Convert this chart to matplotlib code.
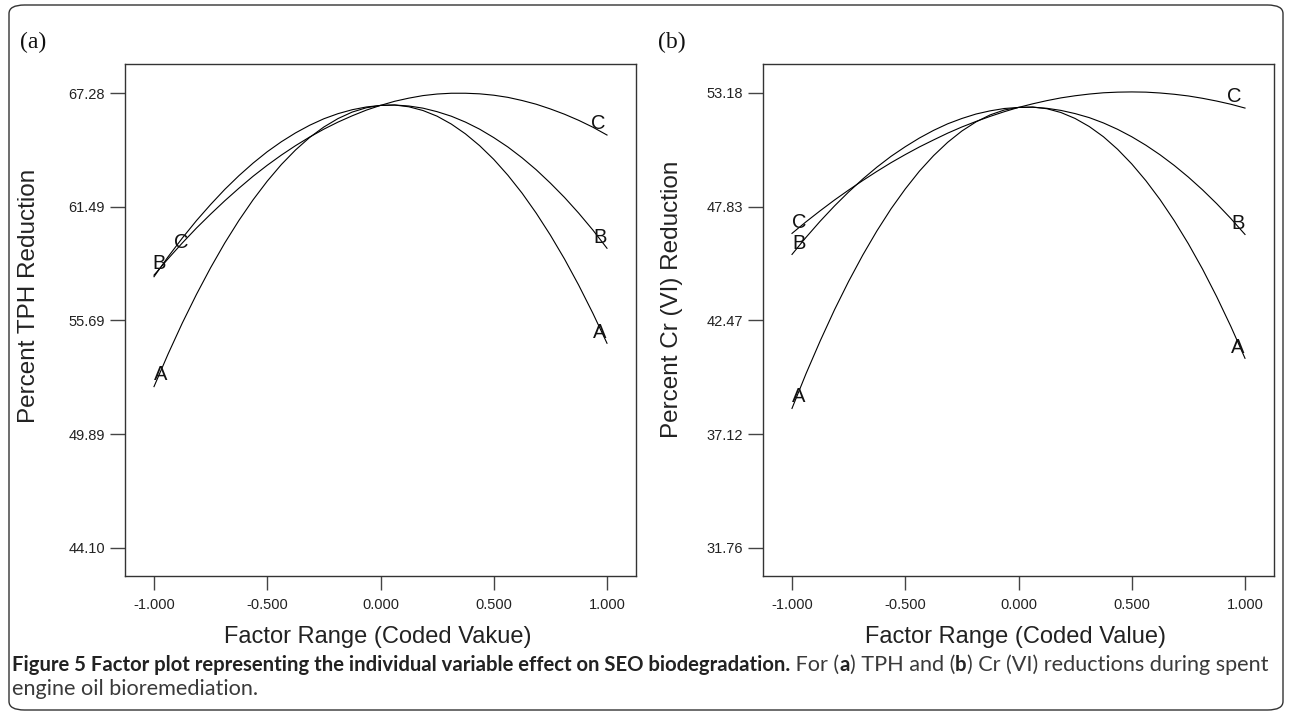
import matplotlib
matplotlib.use('Agg')
import matplotlib.pyplot as plt
from matplotlib.patches import FancyBboxPatch

# coded factor levels where the curves were read
coded = [-1.0, -0.9375, -0.875, -0.8125, -0.75, -0.6875, -0.625, -0.5625, -0.5,
         -0.4375, -0.375, -0.3125, -0.25, -0.1875, -0.125, -0.0625, 0.0,
         0.0625, 0.125, 0.1875, 0.25, 0.3125, 0.375, 0.4375, 0.5,
         0.5625, 0.625, 0.6875, 0.75, 0.8125, 0.875, 0.9375, 1.0]

# (a) percent TPH reduction
tph_A = [52.32, 53.99, 55.56, 57.02, 58.38, 59.64, 60.79, 61.84, 62.79, 63.64, 64.38,
         65.02, 65.55, 65.98, 66.31, 66.53, 66.65, 66.67, 66.58, 66.39, 66.10, 65.70,
         65.20, 64.60, 63.90, 63.09, 62.18, 61.16, 60.04, 58.82, 57.49, 56.06, 54.53]
tph_B = [57.92, 58.94, 59.89, 60.78, 61.60, 62.37, 63.07, 63.71, 64.29, 64.80, 65.25,
         65.64, 65.97, 66.23, 66.43, 66.57, 66.65, 66.67, 66.62, 66.51, 66.33, 66.10,
         65.80, 65.44, 65.01, 64.53, 63.98, 63.37, 62.69, 61.96, 61.16, 60.30, 59.37]
tph_C = [58.00, 58.84, 59.64, 60.40, 61.11, 61.79, 62.43, 63.04, 63.60, 64.12, 64.60,
         65.04, 65.44, 65.80, 66.12, 66.41, 66.65, 66.86, 67.02, 67.15, 67.23, 67.27,
         67.27, 67.24, 67.17, 67.06, 66.90, 66.71, 66.47, 66.20, 65.89, 65.54, 65.14]

# (b) percent Cr (VI) reduction
cr_A = [38.33, 39.98, 41.52, 42.97, 44.31, 45.55, 46.69, 47.73, 48.66, 49.50, 50.23,
        50.86, 51.39, 51.82, 52.15, 52.38, 52.50, 52.52, 52.44, 52.26, 51.98, 51.60,
        51.12, 50.53, 49.84, 49.05, 48.16, 47.17, 46.08, 44.89, 43.59, 42.19, 40.69]
cr_B = [45.58, 46.39, 47.15, 47.86, 48.52, 49.13, 49.69, 50.20, 50.65, 51.06, 51.42,
        51.73, 51.98, 52.19, 52.34, 52.45, 52.50, 52.51, 52.46, 52.36, 52.21, 52.02,
        51.77, 51.47, 51.12, 50.72, 50.27, 49.77, 49.22, 48.62, 47.97, 47.27, 46.52]
cr_C = [46.57, 47.12, 47.64, 48.14, 48.61, 49.06, 49.49, 49.90, 50.28, 50.64, 50.97,
        51.29, 51.58, 51.84, 52.08, 52.30, 52.50, 52.67, 52.82, 52.95, 53.05, 53.13,
        53.19, 53.22, 53.23, 53.22, 53.18, 53.12, 53.04, 52.93, 52.80, 52.65, 52.47]

x_ticks = [-1.0, -0.5, 0.0, 0.5, 1.0]
tph_ticks = [44.10, 49.89, 55.69, 61.49, 67.28]
cr_ticks = [31.76, 37.12, 42.47, 47.83, 53.18]

W, H = 1292, 719
fig = plt.figure(figsize=(W / 100, H / 100), dpi=100)
fig.patch.set_facecolor('white')

# rounded frame around the whole figure
box = FancyBboxPatch((9 / W, 9 / H), (W - 18) / W, (H - 14) / H,
                     boxstyle='round,pad=0,rounding_size=0.012',
                     transform=fig.transFigure, fill=False,
                     edgecolor='#333333', linewidth=1.0)
fig.patches.append(box)

SANS = 'Liberation Sans'
frame_col = '#333333'


def factor_panel(rect, series, yticks, ylim, ylabel, xlabel, ylab_pos, label_spots):
    ax = fig.add_axes(rect)
    for ys in series:
        ax.plot(coded, ys, color='black', linewidth=0.8)
    ax.set_xlim(-1.128, 1.128)
    ax.set_ylim(*ylim)
    ax.set_xticks(x_ticks)
    ax.set_xticklabels([f'{v:.3f}' for v in x_ticks], family=SANS, fontsize=10.5)
    ax.set_yticks(yticks)
    ax.set_yticklabels([f'{v:.2f}' for v in yticks], family=SANS, fontsize=10.5)
    ax.tick_params(axis='x', direction='out', length=10, width=1, pad=6,
                   color='#444444', labelcolor='#222222')
    ax.tick_params(axis='y', direction='out', length=11, width=1, pad=3.5,
                   color='#444444', labelcolor='#222222')
    for s in ax.spines.values():
        s.set_color(frame_col)
        s.set_linewidth(1.0)
    ax.set_ylabel(ylabel, family=SANS, fontsize=17.5, color='#222222')
    ax.set_xlabel(xlabel, family=SANS, fontsize=17, color='#222222')
    ax.yaxis.set_label_coords(*ylab_pos)
    ax.xaxis.set_label_coords(0.495, -0.097)
    # curve letters near the curve ends
    for name, ys, idx, dx, dy in label_spots:
        ax.annotate(name, xy=(coded[idx], ys[idx]), xytext=(dx, dy),
                    textcoords='offset points', ha='center', va='center',
                    family=SANS, fontsize=14.5, color='#111111')
    return ax


ya = (42.67, 68.76)
yb = (30.44, 54.545)

ax1 = factor_panel([125 / W, 1 - 576 / H, 511 / W, 512 / H],
                   [tph_A, tph_B, tph_C], tph_ticks, ya,
                   'Percent TPH Reduction', 'Factor Range (Coded Vakue)',
                   (-0.166, 0.547),
                   [('A', tph_A, 0, 4.5, 8.5), ('B', tph_B, 0, 3.5, 9.5),
                    ('C', tph_C, 2, -1, 0),
                    ('A', tph_A, -1, -5, 8), ('B', tph_B, -1, -5, 8),
                    ('C', tph_C, -1, -6, 8.5)])

ax2 = factor_panel([763 / W, 1 - 576 / H, 511 / W, 512 / H],
                   [cr_A, cr_B, cr_C], cr_ticks, yb,
                   'Percent Cr (VI) Reduction', 'Factor Range (Coded Value)',
                   (-0.157, 0.54),
                   [('A', cr_A, 0, 5, 8.5), ('B', cr_B, 0, 5, 8),
                    ('C', cr_C, 0, 5, 8),
                    ('A', cr_A, -1, -5, 8), ('B', cr_B, -1, -5, 8),
                    ('C', cr_C, -1, -8, 8)])

fig.text(20 / W, 1 - 42 / H, '(a)', family='Liberation Serif', fontsize=17,
         va='center', ha='left', color='#111111')
fig.text(658 / W, 1 - 42 / H, '(b)', family='Liberation Serif', fontsize=17,
         va='center', ha='left', color='#111111')

# caption, pieced together so bold and regular runs follow each other
CAP = 'Lato'
pieces = [
    ('Figure 5 Factor plot representing the individual variable effect on SEO biodegradation.', 'bold'),
    (' For (', 'normal'), ('a', 'bold'), (') TPH and (', 'normal'), ('b', 'bold'),
    (') Cr (VI) reductions during spent', 'normal'),
]
renderer = fig.canvas.get_renderer()
x_px = 12
y_cap = 1 - 671 / H
for txt, wt in pieces:
    t = fig.text(x_px / W, y_cap, txt, family=CAP,
                 fontsize=14.6 if wt == 'bold' else 15.6,
                 fontweight=wt, va='baseline', ha='left',
                 color='#222222' if wt == 'bold' else '#3a3a3a')
    bb = t.get_window_extent(renderer)
    x_px = bb.x1
fig.text(12 / W, 1 - 695 / H, 'engine oil bioremediation.', family=CAP,
         fontsize=15.6, va='baseline', ha='left', color='#3a3a3a')

fig.savefig('out.png', dpi=100)
